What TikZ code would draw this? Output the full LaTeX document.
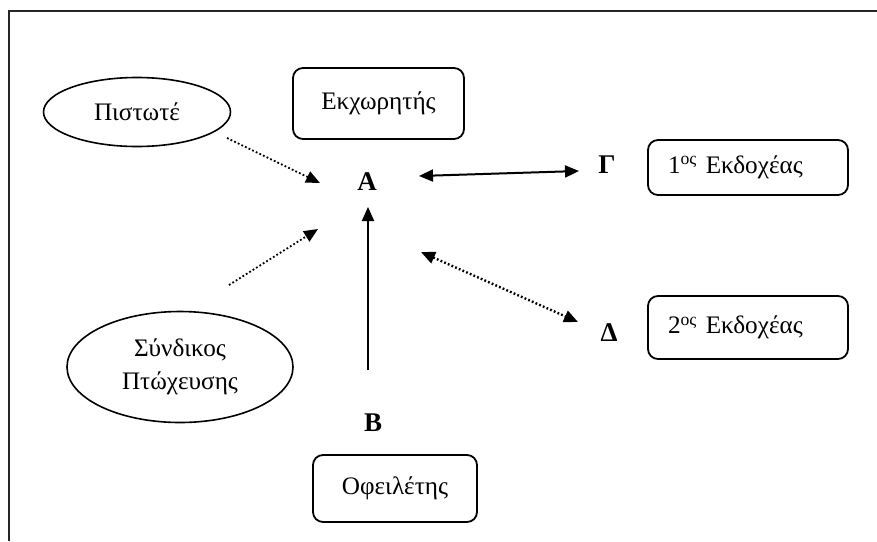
\documentclass[tikz,border=0pt]{standalone}
\usepackage{fontspec}
\setmainfont{Liberation Serif}
\usetikzlibrary{arrows.meta,shapes.geometric}

\begin{document}
\begin{tikzpicture}[x=0.5pt,y=-0.5pt,
    txt/.style={font=\fontsize{12.6}{16.5}\selectfont},
    party/.style={draw,rounded corners=5pt,line width=0.9pt,txt},
    oval/.style={draw,ellipse,line width=0.8pt,inner sep=0pt,txt},
    letter/.style={font=\fontsize{13.5}{15}\selectfont\bfseries,inner sep=0pt},
    tip/.style={-{Triangle[length=7pt,width=6pt]}},
    twotip/.style={{Triangle[length=7pt,width=6pt]}-{Triangle[length=7pt,width=6pt]}},
    dots/.style={dash pattern=on 0.9pt off 1.1pt}]
  \useasboundingbox (0,0) rectangle (877,541);
  \draw[line width=0.8pt,color=black!85] (877,11) -- (9,11) -- (9,541);

  \node[oval,minimum width=93.5pt,minimum height=34.5pt] (creditor) at (137,112) {Πιστωτέ};
  \node[oval,minimum width=113pt,minimum height=55.5pt,align=center] (trustee) at (180,367) {Σύνδικος\\Πτώχευσης};
  \node[party,minimum width=85.5pt,minimum height=35.5pt] (assignor) at (378.5,103.5) {Εκχωρητής};
  \node[party,minimum width=82pt,minimum height=33.5pt] (debtor) at (395,488.5) {Οφειλέτης};
  \node[party,text width=80pt,inner xsep=10pt,minimum height=27.5pt] (first) at (748,167.5) {1\textsuperscript{ος} Εκδοχέας};
  \node[party,text width=80pt,inner xsep=10pt,minimum height=31.5pt] (second) at (748,327.5) {2\textsuperscript{ος} Εκδοχέας};

  \node[letter] (A) at (367,182) {Α};
  \node[letter] (B) at (373,423) {Β};
  \node[letter] (G) at (607,165) {Γ};
  \node[letter] (D) at (609,333) {Δ};

  % arrow ends, kept off the nodes
  \coordinate (creditor-out) at (227,138);
  \coordinate (trustee-out) at (229,285);
  \coordinate (B-out) at (368,370);
  \coordinate (A-nw) at (320,183);
  \coordinate (A-sw) at (318,229);
  \coordinate (A-s) at (368,207);
  \coordinate (A-e) at (419,176);
  \coordinate (A-se) at (421,252);
  \coordinate (G-w) at (579,171);
  \coordinate (D-w) at (578,322);

  \draw[tip,dots,line width=0.9pt] (creditor-out) -- (A-nw);
  \draw[tip,dots,line width=0.9pt] (trustee-out) -- (A-sw);
  \draw[tip,line width=1pt] (B-out) -- (A-s);
  \draw[twotip,line width=1pt] (A-e) -- (G-w);
  \draw[twotip,dots,line width=1.2pt] (A-se) -- (D-w);
\end{tikzpicture}
\end{document}
